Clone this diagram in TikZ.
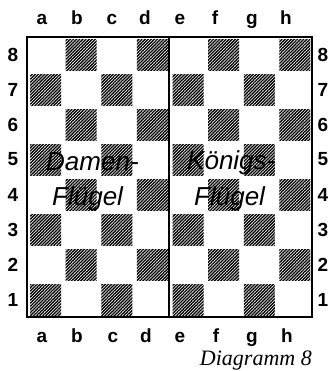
\documentclass[tikz,border=0pt]{standalone}
\usepackage{fontspec}
\setmainfont{Liberation Sans}
\newfontfamily\capfont{Liberation Serif}
\usetikzlibrary{patterns.meta}
\begin{document}
\begin{tikzpicture}[x=1pt,y=-1pt,
  coordlabel/.style={font=\fontsize{19}{19}\selectfont\bfseries, inner sep=0pt},
  wing/.style={font=\fontsize{26}{26}\selectfont\itshape, inner sep=0pt},
  darksq/.style={pattern={Lines[angle=45,distance=2.2pt,line width=1.35pt]}, pattern color=black},
  frame/.style={line width=2.6pt},
  midline/.style={line width=1.8pt}]
\useasboundingbox (0,0) rectangle (331,371);
% dark squares
\foreach \c in {0,...,7}{
  \foreach \r in {1,...,8}{
    \pgfmathtruncatemacro{\odd}{mod(\c+\r,2)}
    \ifnum\odd=1
      \pgfmathsetmacro{\xa}{27+35.625*\c+3}
      \pgfmathsetmacro{\ya}{37+35*(8-\r)+2.5}
      \path[darksq] (\xa,\ya) rectangle ++(31,31);
    \fi
  }
}
% frame
\draw[frame] (27,37) rectangle (312,317);
\coordinate (mtop) at (169,37);
\coordinate (mbot) at (169,317);
\draw[midline] (mtop) -- (mbot);
% file letters
\foreach \l/\x/\xb [count=\i] in {a/42/42,b/77/77,c/112/113,d/145/146,e/180/180,f/215/216,g/252/252,h/286/287}{
  \node[coordlabel, anchor=base] (top\l) at (\x,25) {\l};
  \node[coordlabel, anchor=base] (bot\l) at (\xb,342) {\l};
}
% rank numbers
\foreach \r in {1,...,8}{
  \pgfmathsetmacro{\yy}{37+35*(8-\r)+17.5}
  \node[coordlabel] (left\r) at (13,\yy) {\r};
  \node[coordlabel] (right\r) at (323,\yy) {\r};
}
% wing labels
\node[wing, anchor=base west] (damen) at (46,171) {Damen-};
\node[wing, anchor=base west] (fluegelA) at (52,205) {Flügel};
\node[wing, anchor=base west] (koenigs) at (187,170) {Königs-};
\node[wing, anchor=base west] (fluegelB) at (194,205) {Flügel};
% caption
\node[font=\capfont\fontsize{22}{22}\selectfont\itshape, inner sep=0pt, anchor=base east] (caption) at (312,365) {Diagramm 8};
\end{tikzpicture}
\end{document}
